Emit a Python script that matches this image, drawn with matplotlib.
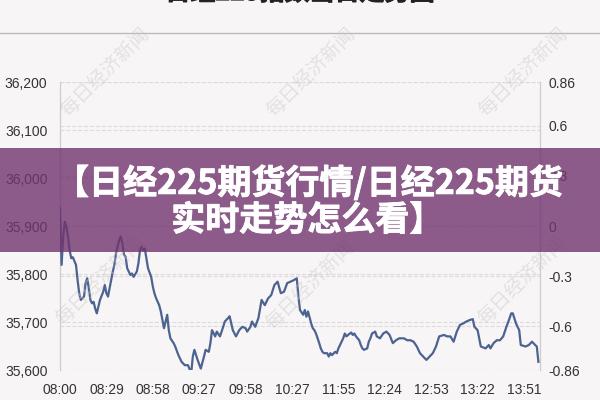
"""日经225指数当日走势图"""
import matplotlib
matplotlib.use('Agg')
import matplotlib.pyplot as plt
import matplotlib.patheffects as pe
from matplotlib.patches import Rectangle
from matplotlib.lines import Line2D

plt.rcParams['font.family'] = ['Liberation Sans', 'Noto Sans CJK SC', 'DejaVu Sans']

# 分钟序号（08:00 起，午休已去掉）
minutes = [
    0, 1, 2, 3, 4, 5, 6, 7, 8, 10,
    11, 12, 13, 15, 16, 17, 18, 19, 20, 21,
    22, 23, 24, 25, 27, 28, 29, 30, 31, 32,
    33, 34, 35, 37, 38, 39, 40, 41, 42, 44,
    45, 46, 48, 49, 50, 51, 52, 53, 54, 55,
    57, 58, 59, 60, 62, 63, 65, 67, 68, 69,
    71, 72, 74, 76, 78, 80, 82, 83, 84, 86,
    88, 90, 91, 93, 94, 95, 97, 98, 100, 102,
    103, 105, 106, 108, 110, 112, 114, 116, 117, 119,
    120, 122, 124, 126, 128, 130, 132, 134, 136, 138,
    140, 142, 144, 146, 148, 149, 150, 152, 153, 154,
    155, 157, 158, 159, 160, 162, 163, 164, 165, 167,
    168, 169, 170, 172, 173, 174, 175, 177, 178, 179,
    180, 182, 183, 184, 185, 187, 188, 189, 190, 192,
    193, 194, 195, 197, 198, 200, 202, 204, 206, 208,
    210, 212, 215, 217, 219, 221, 223, 225, 227, 229,
    231, 233, 235, 237, 240, 242, 244, 246, 248, 250,
    252, 254, 256, 258, 259, 261, 263, 266, 268, 269,
    271, 273, 275, 277, 279, 281, 282, 283, 285, 287,
    288, 291, 293, 295, 297, 298, 299,
]
prices = [
    35937, 35819, 35878, 35909, 35899, 35878, 35850, 35833, 35835, 35819,
    35787, 35760, 35746, 35753, 35781, 35791, 35770, 35746, 35739, 35742,
    35728, 35718, 35732, 35746, 35763, 35777, 35760, 35753, 35770, 35787,
    35805, 35819, 35843, 35871, 35878, 35864, 35840, 35836, 35812, 35798,
    35801, 35794, 35805, 35822, 35850, 35857, 35850, 35853, 35833, 35812,
    35794, 35774, 35760, 35750, 35735, 35722, 35687, 35715, 35683, 35666,
    35656, 35649, 35631, 35617, 35610, 35610, 35593, 35628, 35642, 35621,
    35603, 35628, 35642, 35638, 35656, 35683, 35670, 35680, 35670, 35690,
    35701, 35708, 35712, 35683, 35670, 35683, 35690, 35687, 35680, 35690,
    35701, 35690, 35708, 35746, 35735, 35749, 35756, 35777, 35784, 35760,
    35763, 35781, 35784, 35787, 35791, 35753, 35725, 35715, 35725, 35711,
    35722, 35697, 35687, 35683, 35676, 35656, 35645, 35638, 35635, 35635,
    35628, 35635, 35631, 35638, 35635, 35645, 35652, 35666, 35676, 35670,
    35673, 35678, 35673, 35676, 35670, 35662, 35652, 35645, 35642, 35645,
    35659, 35666, 35676, 35680, 35670, 35666, 35676, 35680, 35673, 35656,
    35662, 35666, 35666, 35662, 35662, 35659, 35649, 35635, 35628, 35621,
    35628, 35635, 35649, 35670, 35673, 35670, 35670, 35659, 35680, 35694,
    35697, 35701, 35704, 35706, 35690, 35683, 35649, 35645, 35652, 35645,
    35656, 35662, 35662, 35670, 35690, 35708, 35718, 35718, 35697, 35683,
    35652, 35649, 35652, 35659, 35652, 35649, 35617,
]

x_ticks = [0, 29, 58, 87, 116, 145, 174, 203, 232, 261, 290]
x_labels = ['08:00', '08:29', '08:58', '09:27', '09:58', '10:27',
            '11:55', '12:24', '12:53', '13:22', '13:51']
left_ticks = [35600, 35700, 35800, 35900, 36000, 36100, 36200]
right_ticks = [-0.86, -0.6, -0.3, 0, 0.3, 0.6, 0.86]
right_labels = ['-0.86', '-0.6', '-0.3', '0', '0.3', '0.6', '0.86']

title = '日经225指数当日走势图'
banner_1 = '【日经225期货行情/日经225期货'
banner_2 = '实时走势怎么看】'
watermark = '每日经济新闻'

bg = '#f8f5f6'
fig = plt.figure(figsize=(6, 4), dpi=100, facecolor=bg)
ax = fig.add_axes([0.1, 0.075, 0.8, 0.72])
ax2 = ax.twinx()

ax.plot(minutes, prices, color='#4c6390', linewidth=1.6, zorder=3)
ax.set_xlim(0, 300)
ax.set_ylim(35600, 36200)
ax.set_xticks(x_ticks)
ax.set_xticklabels(x_labels)
ax.set_yticks(left_ticks)
ax.set_yticklabels([f'{v:,}' for v in left_ticks])

ax2.set_ylim(-0.86, 0.86)
ax2.set_yticks(right_ticks)
ax2.set_yticklabels(right_labels)

# 左轴在上层，网格线统一在折线下面
ax.set_zorder(ax2.get_zorder() + 1)
ax.patch.set_visible(False)
ax2.patch.set_visible(False)

for a in (ax, ax2):
    a.grid(axis='y', linestyle='--', color='#dedade', linewidth=0.8)
    a.set_axisbelow(True)
    for side in ('top', 'bottom'):
        a.spines[side].set_visible(False)
    for side in ('left', 'right'):
        a.spines[side].set_color('#cfcbce')
        a.spines[side].set_linewidth(0.8)
    a.tick_params(length=0, labelsize=10, colors='#333333')
ax.tick_params(axis='y', pad=9)
ax.tick_params(axis='x', pad=9)
ax2.tick_params(axis='y', pad=6)

# 顶部被截掉的标题和分隔线
fig.text(0.5, 1 + 7 / 400, title, ha='center', va='center', fontsize=18,
         fontweight='bold', color='#222222', family=['Noto Sans CJK SC'],
         path_effects=[pe.withStroke(linewidth=0.8, foreground='#222222')])
fig.add_artist(Line2D([0, 1], [1 - 33 / 400] * 2, color='#bbbbbb',
                      linewidth=1, transform=fig.transFigure))

# 水印
for wx, wy in [(105, 72), (311, 72), (523, 72), (100, 280), (310, 285), (522, 280)]:
    fig.text(wx / 600, 1 - wy / 400, watermark, ha='center', va='center',
             rotation=45, fontsize=14, color='#cdc8cb', alpha=0.45,
             family=['Noto Sans CJK SC'], zorder=5)

# 紫色横幅，白字加细描边显得更粗
fig.patches.append(Rectangle((0, 1 - 252 / 400), 1, 104 / 400,
                             transform=fig.transFigure, facecolor='#72346f',
                             alpha=0.8, edgecolor='none', zorder=10))
heavy = [pe.withStroke(linewidth=0.6, foreground='white')]
fig.text(0.515, 1 - 183 / 400, banner_1, ha='center', va='center', fontsize=24.5,
         fontweight='bold', color='white', family=['Noto Sans CJK SC'],
         path_effects=heavy, zorder=11)
fig.text(0.512, 1 - 220 / 400, banner_2, ha='center', va='center', fontsize=24.5,
         fontweight='bold', color='white', family=['Noto Sans CJK SC'],
         path_effects=heavy, zorder=11)

plt.savefig('out.png', dpi=100, facecolor=bg)
plt.close()
